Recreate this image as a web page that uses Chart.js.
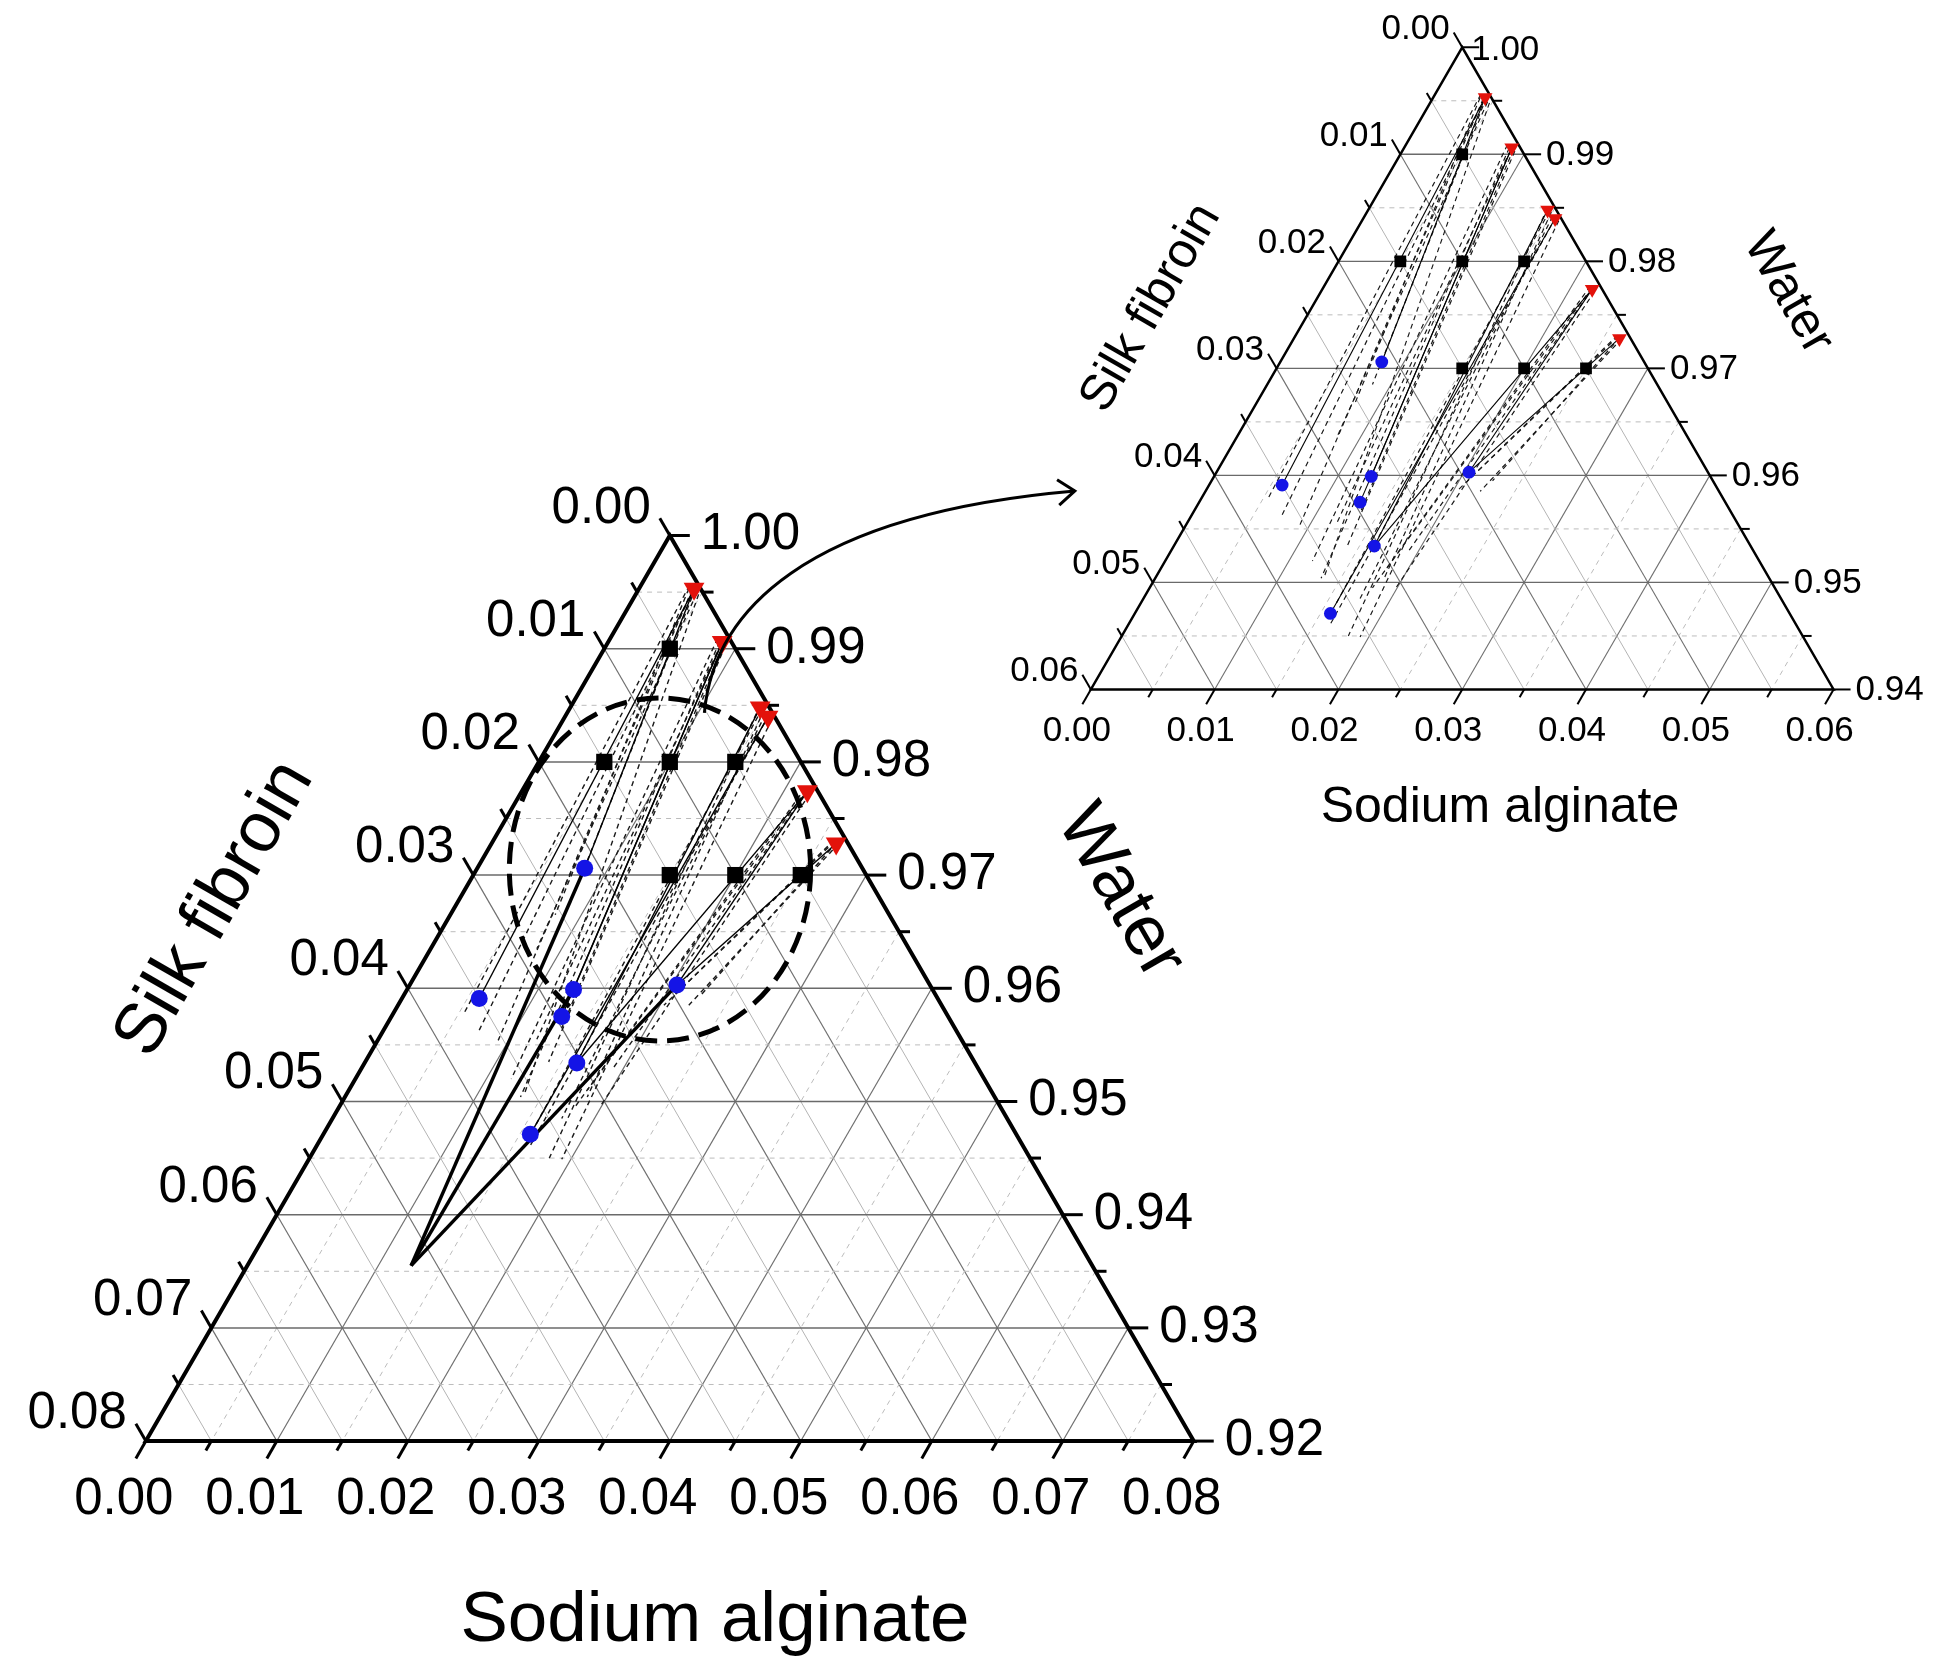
<!DOCTYPE html>
<html lang="en">
<head>
    <meta charset="UTF-8">
    <title>Silk fibroin / Sodium alginate / Water - ternary diagram</title>
    <script src="https://cdn.jsdelivr.net/npm/chart.js"></script>
    <style>
        html, body { margin: 0; padding: 0; background: #fff; }
        .janela { position: relative; width: 1950px; height: 1663px; overflow: hidden; }
        .janela canvas { position: absolute; left: 0; top: 0; }
    </style>
</head>
<body>
    <div class="janela">
        <canvas id="grafico-grande" width="1950" height="1663"></canvas>
        <canvas id="grafico-zoom" width="1950" height="1663"></canvas>
    </div>

<script>
    // mass fractions, water = 1 - SA - SF
    // overall (feed) compositions, black squares
    const feedSA = [0.005, 0.005, 0.010, 0.015, 0.015, 0.020, 0.025];
    const feedSF = [0.005, 0.015, 0.010, 0.005, 0.015, 0.010, 0.005];
    // silk fibroin rich phase, blue circles
    const bottomSA = [0.0082, 0.0059, 0.0127, 0.0130, 0.0162, 0.0158, 0.0204];
    const bottomSF = [0.0212, 0.0350, 0.0274, 0.0295, 0.0304, 0.0371, 0.0193];
    // alginate rich phase, red triangles
    const topSA = [0.0042, 0.0087, 0.0145, 0.0155, 0.0218, 0.0263];
    const topSF = [0.0005, 0.0007, 0.0007, 0.0005, 0.0008, 0.0009];
    // tie lines: bottom phase index -> top phase index
    const tieBottom = [1, 0, 2, 3, 4, 4, 5, 6, 6];
    const tieTop    = [0, 0, 1, 1, 2, 4, 3, 5, 4];
    // fitted tie lines (dashed), start and end
    const fitSA1 = [0.0042, 0.0037, 0.0048, 0.0038, 0.0046, 0.0085, 0.0091, 0.0087, 0.0144, 0.0149, 0.0155, 0.0159, 0.0217, 0.0221, 0.0261, 0.0265, 0.0260,
                    0.0089, 0.0082, 0.0152, 0.0147, 0.0218, 0.0215, 0.0263, 0.0041, 0.0043];
    const fitSF1 = [0.0005, 0.0007, 0.0004, 0.0009, 0.0005, 0.0009, 0.0006, 0.0009, 0.0006, 0.0005, 0.0004, 0.0003, 0.0008, 0.0007, 0.0009, 0.0007, 0.0009,
                    0.0006, 0.0009, 0.0006, 0.0006, 0.0007, 0.0008, 0.0008, 0.0007, 0.0004];
    const fitSA2 = [0.0073, 0.0054, 0.0136, 0.0080, 0.0081, 0.0134, 0.0140, 0.0121, 0.0183, 0.0185, 0.0163, 0.0193, 0.0182, 0.0199, 0.0207, 0.0222, 0.0203,
                    0.0135, 0.0119, 0.0175, 0.0158, 0.0192, 0.0180, 0.0227, 0.0092, 0.0085];
    const fitSF2 = [0.0364, 0.0369, 0.0359, 0.0255, 0.0284, 0.0362, 0.0325, 0.0324, 0.0367, 0.0311, 0.0377, 0.0358, 0.0308, 0.0306, 0.0198, 0.0193, 0.0212,
                    0.0300, 0.0361, 0.0340, 0.0362, 0.0279, 0.0325, 0.0178, 0.0354, 0.0230];
    // extrapolated tie lines meet here (main diagram only)
    const convSA = 0.0125;
    const convSF = 0.0520;
    const convTo = [0, 2, 6];

    // tick labels
    const saTicksBig = ['0.00', '0.01', '0.02', '0.03', '0.04', '0.05', '0.06', '0.07', '0.08'];
    const sfTicksBig = ['0.00', '0.01', '0.02', '0.03', '0.04', '0.05', '0.06', '0.07', '0.08'];
    const waterTicksBig = ['1.00', '0.99', '0.98', '0.97', '0.96', '0.95', '0.94', '0.93', '0.92'];
    const saTicksZoom = ['0.00', '0.01', '0.02', '0.03', '0.04', '0.05', '0.06'];
    const sfTicksZoom = ['0.00', '0.01', '0.02', '0.03', '0.04', '0.05', '0.06'];
    const waterTicksZoom = ['1.00', '0.99', '0.98', '0.97', '0.96', '0.95', '0.94'];

    const H = Math.sqrt(3) / 2;

    // ternary -> cartesian, apex (pure water) on top, base on y = 0
    function toXY(sa, sf, range) {
        return { x: 0.5 * (sa - sf), y: (range - sa - sf) * H };
    }

    const ternaryAxes = {
        id: 'ternaryAxes',
        beforeDatasetsDraw(chart, args, o) {
            const ctx = chart.ctx;
            const R = o.range;
            const px = (sa, sf) => {
                const p = toXY(sa, sf, R);
                return [chart.scales.x.getPixelForValue(p.x), chart.scales.y.getPixelForValue(p.y)];
            };
            const seg = (a, b) => {
                ctx.beginPath();
                ctx.moveTo(a[0], a[1]);
                ctx.lineTo(b[0], b[1]);
                ctx.stroke();
            };
            const n = Math.round(R / 0.005);

            ctx.save();
            // grid: minor lines every 0.005, major every 0.01
            for (let k = 1; k < n; k++) {
                const c = k * 0.005;
                const major = k % 2 === 0;
                // constant SF
                ctx.setLineDash([]);
                ctx.strokeStyle = major ? '#707070' : '#b4b4b4';
                ctx.lineWidth = major ? o.gridWidth : 1;
                seg(px(0, c), px(R - c, c));
                // constant SA
                ctx.setLineDash(major ? [] : [5, 5]);
                ctx.strokeStyle = major ? '#707070' : '#bcbcbc';
                seg(px(c, 0), px(c, R - c));
                // constant water
                ctx.strokeStyle = major ? '#6a6a6a' : '#bcbcbc';
                ctx.lineWidth = major ? o.gridWidth * 1.25 : 1;
                seg(px(0, c), px(c, 0));
            }
            ctx.setLineDash([]);

            // ticks
            ctx.strokeStyle = '#000';
            ctx.lineWidth = o.tickWidth;
            for (let k = 0; k <= n; k++) {
                const c = k * 0.005;
                const len = k % 2 === 0 ? o.tickMajor : o.tickMinor;
                const b = px(c, R - c);
                seg(b, [b[0] - 0.5 * len, b[1] + H * len]);
                const l = px(0, c);
                seg(l, [l[0] - 0.5 * len, l[1] - H * len]);
                const r = px(c, 0);
                seg(r, [r[0] + len, r[1]]);
            }

            // triangle
            ctx.lineWidth = o.edgeWidth;
            ctx.lineJoin = 'miter';
            const A = px(0, 0), L = px(0, R), B = px(R, 0);
            ctx.beginPath();
            ctx.moveTo(A[0], A[1]);
            ctx.lineTo(L[0], L[1]);
            ctx.lineTo(B[0], B[1]);
            ctx.closePath();
            ctx.stroke();

            // tick labels
            ctx.fillStyle = '#000';
            ctx.font = o.tickFont;
            ctx.textBaseline = 'alphabetic';
            ctx.textAlign = 'center';
            o.saLabels.forEach((t, i) => {
                const p = px(i * 0.01, R - i * 0.01);
                ctx.fillText(t, p[0] + o.bottomOff[0], p[1] + o.bottomOff[1]);
            });
            ctx.textAlign = 'right';
            o.sfLabels.forEach((t, i) => {
                const p = px(0, i * 0.01);
                ctx.fillText(t, p[0] + o.leftOff[0], p[1] + o.leftOff[1]);
            });
            ctx.textAlign = 'left';
            o.waterLabels.forEach((t, i) => {
                const p = px(i * 0.01, 0);
                const off = i === 0 ? o.apexOff : o.rightOff;
                ctx.fillText(t, p[0] + off[0], p[1] + off[1]);
            });

            // axis titles
            ctx.font = o.titleFont;
            ctx.textAlign = 'center';
            ctx.textBaseline = 'middle';
            o.titles.forEach(t => {
                ctx.save();
                ctx.translate(t.x, t.y);
                ctx.rotate(t.rot * Math.PI / 180);
                ctx.fillText(t.text, 0, 0);
                ctx.restore();
            });
            ctx.restore();
        }
    };

    // dashed circle round the tie lines and the arrow to the enlarged view
    const highlight = {
        id: 'highlight',
        afterDatasetsDraw(chart, args, o) {
            if (!o.ellipse) return;
            const ctx = chart.ctx;
            const sx = chart.scales.x, sy = chart.scales.y;
            const c = toXY(o.ellipse.sa, o.ellipse.sf, o.range);
            const cx = sx.getPixelForValue(c.x), cy = sy.getPixelForValue(c.y);
            const rx = Math.abs(sx.getPixelForValue(c.x + o.ellipse.rx) - cx);
            const ry = Math.abs(sy.getPixelForValue(c.y + o.ellipse.ry) - cy);

            ctx.save();
            ctx.strokeStyle = '#000';
            ctx.lineWidth = 5;
            ctx.setLineDash([22, 10]);
            ctx.beginPath();
            ctx.ellipse(cx, cy, rx, ry, 0, 0, 2 * Math.PI);
            ctx.stroke();

            const p = o.arrow.map(q => [sx.getPixelForValue(q[0]), sy.getPixelForValue(q[1])]);
            ctx.setLineDash([]);
            ctx.lineWidth = 3;
            ctx.beginPath();
            ctx.moveTo(p[0][0], p[0][1]);
            ctx.bezierCurveTo(p[1][0], p[1][1], p[2][0], p[2][1], p[3][0], p[3][1]);
            ctx.stroke();

            const ang = Math.atan2(p[3][1] - p[2][1], p[3][0] - p[2][0]);
            const arm = 21, spread = 0.65;
            ctx.beginPath();
            ctx.moveTo(p[3][0] - arm * Math.cos(ang - spread), p[3][1] - arm * Math.sin(ang - spread));
            ctx.lineTo(p[3][0], p[3][1]);
            ctx.lineTo(p[3][0] - arm * Math.cos(ang + spread), p[3][1] - arm * Math.sin(ang + spread));
            ctx.stroke();
            ctx.restore();
        }
    };

    function buildDatasets(range, big) {
        const pt = (sa, sf) => toXY(sa, sf, range);
        const sets = [];

        sets.push({
            label: 'Top phase',
            data: topSA.map((v, i) => pt(v, topSF[i])),
            pointStyle: 'triangle', rotation: 180,
            pointRadius: big ? 12 : 8.5,
            backgroundColor: '#e3120b', borderWidth: 0, order: 0
        });
        sets.push({
            label: 'Feed',
            data: feedSA.map((v, i) => pt(v, feedSF[i])),
            pointStyle: 'rect',
            pointRadius: big ? 11.5 : 8.3,
            backgroundColor: '#000', borderWidth: 0, order: 0
        });
        sets.push({
            label: 'Bottom phase',
            data: bottomSA.map((v, i) => pt(v, bottomSF[i])),
            pointStyle: 'circle',
            pointRadius: big ? 8.5 : 6.4,
            backgroundColor: '#1414e6', borderWidth: 0, order: 0
        });

        fitSA1.forEach((v, i) => {
            sets.push({
                label: 'fit ' + i,
                data: [pt(v, fitSF1[i]), pt(fitSA2[i], fitSF2[i])],
                showLine: true, borderColor: '#1a1a1a', borderWidth: big ? 1.4 : 1.2,
                borderDash: [5, 4], pointRadius: 0, order: 2
            });
        });

        tieBottom.forEach((b, i) => {
            const t = tieTop[i];
            sets.push({
                label: 'tie ' + i,
                data: [pt(bottomSA[b], bottomSF[b]), pt(topSA[t], topSF[t])],
                showLine: true, borderColor: '#000', borderWidth: big ? 1.4 : 1.1,
                pointRadius: 0, order: 1
            });
        });

        if (big) {
            convTo.forEach((b, i) => {
                sets.push({
                    label: 'extrapolation ' + i,
                    data: [pt(convSA, convSF), pt(bottomSA[b], bottomSF[b])],
                    showLine: true, borderColor: '#000', borderWidth: 3.5,
                    pointRadius: 0, order: 1
                });
            });
        }
        return sets;
    }

    function makeChart(id, range, big, xr, yr, axes, extra) {
        return new Chart(document.getElementById(id), {
            type: 'scatter',
            data: { datasets: buildDatasets(range, big) },
            options: {
                responsive: false,
                animation: false,
                devicePixelRatio: 1,
                events: [],
                layout: { padding: 0 },
                scales: {
                    x: { type: 'linear', min: xr[0], max: xr[1], display: false },
                    y: { type: 'linear', min: yr[0], max: yr[1], display: false }
                },
                plugins: {
                    legend: { display: false },
                    tooltip: { enabled: false },
                    ternaryAxes: axes,
                    highlight: extra
                }
            },
            plugins: [ternaryAxes, highlight]
        });
    }

    const fontFamily = '"Liberation Sans", Arial, sans-serif';

    makeChart('grafico-grande', 0.08, true,
        [-0.0502187, 0.0968180], [-0.0160609, 0.1093349],
        {
            range: 0.08,
            gridWidth: 1.2, tickWidth: 3, tickMajor: 20, tickMinor: 11, edgeWidth: 4,
            tickFont: '51px ' + fontFamily,
            saLabels: saTicksBig, sfLabels: sfTicksBig, waterLabels: waterTicksBig,
            bottomOff: [-22, 73], leftOff: [-19, -13], rightOff: [31, 14], apexOff: [31, 13],
            titleFont: '71px ' + fontFamily,
            titles: [
                { text: 'Silk fibroin', x: 215, y: 909, rot: -60 },
                { text: 'Water', x: 1120, y: 892, rot: 60 },
                { text: 'Sodium alginate', x: 715, y: 1621, rot: 0 }
            ]
        },
        {
            range: 0.08,
            ellipse: { sa: 0.0140, sf: 0.0155, rx: 0.0115, ry: 0.01312 },
            arrow: [[0.00264, 0.05572], [0.00332, 0.06334], [0.0101, 0.07088], [0.03092, 0.07269]]
        });

    makeChart('grafico-zoom', 0.06, false,
        [-0.117442, 0.038720], [-0.078081, 0.055097],
        {
            range: 0.06,
            gridWidth: 1.1, tickWidth: 2, tickMajor: 17, tickMinor: 9, edgeWidth: 2.5,
            tickFont: '35px ' + fontFamily,
            saLabels: saTicksZoom, sfLabels: sfTicksZoom, waterLabels: waterTicksZoom,
            bottomOff: [-14, 52], leftOff: [-12.5, -8.5], rightOff: [22, 10.5], apexOff: [9, 12.5],
            titleFont: '50px ' + fontFamily,
            titles: [
                { text: 'Silk fibroin', x: 1151, y: 308, rot: -60 },
                { text: 'Water', x: 1788, y: 293, rot: 60 },
                { text: 'Sodium alginate', x: 1500, y: 808, rot: 0 }
            ]
        },
        {});
</script>
</body>
</html>
